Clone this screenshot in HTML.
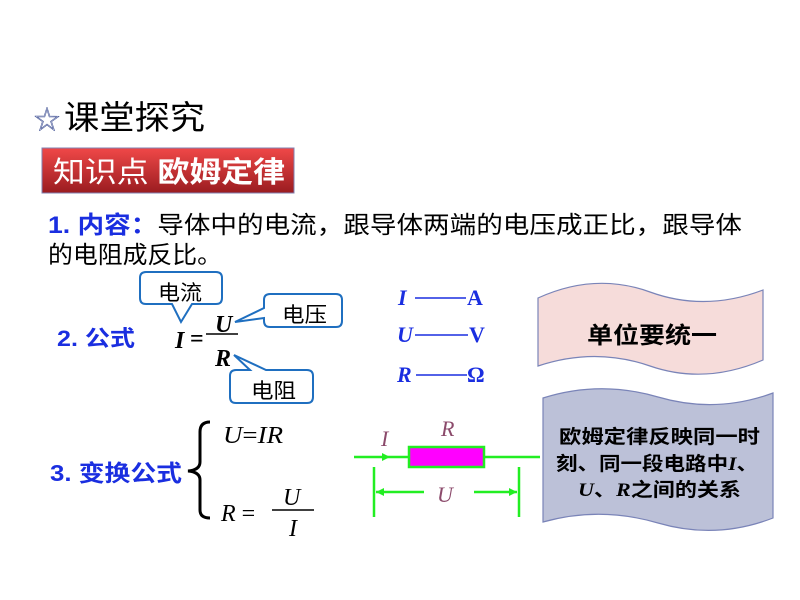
<!DOCTYPE html>
<html><head><meta charset="utf-8"><style>
body{margin:0;background:#fff;}
svg{display:block;}
.cn{font-family:"Liberation Sans","Noto Sans CJK SC",sans-serif;}
.m{font-family:"Liberation Serif","Noto Serif CJK SC",serif;}
</style></head><body>
<svg width="800" height="600" viewBox="0 0 800 600" xmlns="http://www.w3.org/2000/svg">
<defs>
<linearGradient id="rg" x1="0" y1="0" x2="0" y2="1">
<stop offset="0" stop-color="#f04848"/><stop offset="1" stop-color="#9a1c20"/>
</linearGradient>
</defs>
<!-- title -->
<text x="34" y="129" font-size="26" fill="#fff" stroke="#4a5a9a" stroke-width="0.6" class="cn">☆</text>
<text x="64" y="129" font-size="33" fill="#000" class="cn" textLength="141" lengthAdjust="spacingAndGlyphs">课堂探究</text>
<rect x="42" y="148" width="252" height="45" fill="url(#rg)" stroke="#8080b0" stroke-width="1"/>
<text x="53" y="182" font-size="29" fill="#fff" class="cn" textLength="232" lengthAdjust="spacingAndGlyphs">知识点 <tspan font-weight="bold">欧姆定律</tspan></text>
<!-- content -->
<text x="48" y="233" font-size="24" class="cn" textLength="694" lengthAdjust="spacingAndGlyphs"><tspan fill="#1a2ee0" font-weight="bold">1. 内容：</tspan><tspan fill="#000">导体中的电流，跟导体两端的电压成正比，跟导体</tspan></text>
<text x="48" y="263" font-size="24" fill="#000" class="cn" textLength="174" lengthAdjust="spacingAndGlyphs">的电阻成反比。</text>
<text x="57" y="346" font-size="22" fill="#1a2ee0" font-weight="bold" class="cn" textLength="78" lengthAdjust="spacingAndGlyphs">2. 公式</text>
<!-- callouts -->
<path d="M146 272 H216 Q222 272 222 278 V298 Q222 304 216 304 H192 L181 322 L172 304 H146 Q140 304 140 298 V278 Q140 272 146 272 Z" fill="#fff" stroke="#1f6fc0" stroke-width="2"/>
<text x="158" y="300" font-size="21" class="cn" textLength="44" lengthAdjust="spacingAndGlyphs">电流</text>
<path d="M270 294 H336 Q342 294 342 300 V321 Q342 327 336 327 H270 Q264 327 264 321 V318 L235 322 L264 308 V300 Q264 294 270 294 Z" fill="#fff" stroke="#1f6fc0" stroke-width="2"/>
<text x="282" y="322" font-size="21" class="cn" textLength="45" lengthAdjust="spacingAndGlyphs">电压</text>
<path d="M236 370 H250 L234 355 L266 370 H307 Q313 370 313 376 V397 Q313 403 307 403 H236 Q230 403 230 397 V376 Q230 370 236 370 Z" fill="#fff" stroke="#1f6fc0" stroke-width="2"/>
<text x="251" y="398" font-size="21" class="cn" textLength="45" lengthAdjust="spacingAndGlyphs">电阻</text>
<!-- formula -->
<text x="175" y="348" font-size="24" font-weight="bold" font-style="italic" class="m">I</text>
<text x="190" y="346" font-size="24" font-weight="bold" class="m">=</text>
<text x="215" y="332" font-size="24" font-weight="bold" font-style="italic" class="m">U</text>
<line x1="206" y1="334" x2="238" y2="334" stroke="#000" stroke-width="1.5"/>
<text x="215" y="366" font-size="24" font-weight="bold" font-style="italic" class="m">R</text>
<!-- units -->
<g fill="#1a2ee0" font-size="22" font-weight="bold" class="m">
<text x="398" y="305" font-style="italic">I</text><text x="467" y="305">A</text>
<text x="397" y="342" font-style="italic">U</text><text x="469" y="342">V</text>
<text x="397" y="382" font-style="italic">R</text><text x="467" y="382">Ω</text>
</g>
<g stroke="#1a2ee0" stroke-width="1.5">
<line x1="415" y1="298" x2="466" y2="298"/>
<line x1="415" y1="335" x2="468" y2="335"/>
<line x1="416" y1="375" x2="467" y2="375"/>
</g>
<!-- pink banner -->
<path d="M538 298 Q595 272 650 292 Q705 312 763 290 V360 Q705 385 650 366 Q595 347 538 366 Z" fill="#f6dcda" stroke="#7a84b8" stroke-width="1.2"/>
<text x="587" y="343" font-size="23" font-weight="bold" class="cn" textLength="130" lengthAdjust="spacingAndGlyphs">单位要统一</text>
<!-- blue banner -->
<path d="M543 398 Q600 380 658 397 Q716 414 773 393 V518 Q716 540 658 523 Q600 506 543 522 Z" fill="#bcc1d8" stroke="#7a84b8" stroke-width="1.2"/>
<g font-size="19" font-weight="bold" class="cn">
<text x="559" y="443" textLength="201" lengthAdjust="spacingAndGlyphs">欧姆定律反映同一时</text>
<text x="556" y="470" textLength="202" lengthAdjust="spacingAndGlyphs">刻、同一段电路中<tspan class="m" font-style="italic">I</tspan>、</text>
<text x="578" y="496" textLength="163" lengthAdjust="spacingAndGlyphs"><tspan class="m" font-style="italic">U</tspan>、<tspan class="m" font-style="italic">R</tspan>之间的关系</text>
</g>
<!-- circuit -->
<g stroke="#22ee22" stroke-width="2.5" fill="none">
<line x1="354" y1="457" x2="408" y2="457"/>
<line x1="484" y1="457" x2="540" y2="457"/>
<line x1="374" y1="467" x2="374" y2="517"/>
<line x1="519" y1="467" x2="519" y2="517"/>
<line x1="376" y1="492" x2="424" y2="492"/>
<line x1="474" y1="492" x2="517" y2="492"/>
</g>
<polygon points="390,457 382,453 382,461" fill="#22ee22"/>
<polygon points="376,492 384,488 384,496" fill="#22ee22"/>
<polygon points="517,492 509,488 509,496" fill="#22ee22"/>
<rect x="409" y="447" width="75" height="20" fill="#ff00ff" stroke="#22ee22" stroke-width="2.5"/>
<g fill="#8b4a6b" font-size="22" font-style="italic" class="m">
<text x="381" y="446">I</text><text x="441" y="436">R</text><text x="437" y="502">U</text>
</g>
<!-- 3 -->
<text x="50" y="481" font-size="23" fill="#1a2ee0" font-weight="bold" class="cn" textLength="132" lengthAdjust="spacingAndGlyphs">3. 变换公式</text>
<path d="M210 422 Q200 422 200 432 V462 Q200 470 188 471 Q200 472 200 480 V510 Q200 518 210 518" fill="none" stroke="#000" stroke-width="3"/>
<g font-size="24" font-style="italic" class="m">
<text x="223" y="443" textLength="60" lengthAdjust="spacingAndGlyphs">U<tspan font-style="normal">=</tspan>IR</text>
<text x="221" y="521">R <tspan font-style="normal">=</tspan></text>
<text x="283" y="505">U</text>
<text x="289" y="536">I</text>
</g>
<line x1="272" y1="510" x2="314" y2="510" stroke="#000" stroke-width="1.5"/>
</svg>
</body></html>
